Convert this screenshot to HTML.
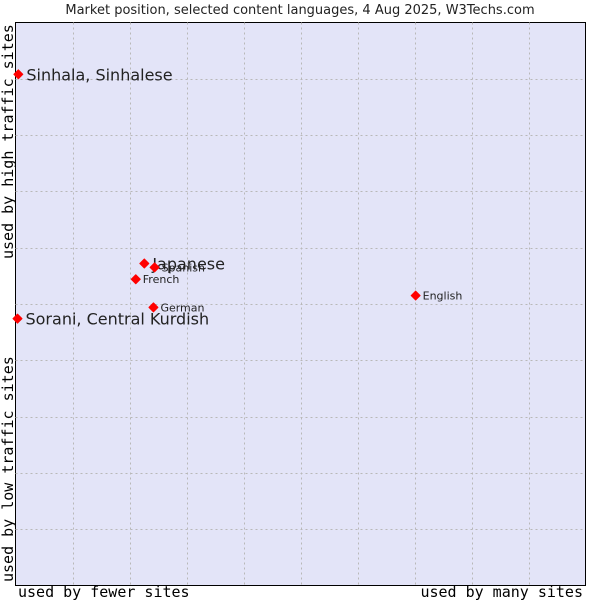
<!DOCTYPE html>
<html><head><meta charset="utf-8"><style>
body{margin:0;background:#fff;width:600px;height:600px;overflow:hidden}
svg text{font-family:"DejaVu Sans","Liberation Sans",sans-serif}
</style></head><body>
<svg id="c" width="600" height="600" xmlns="http://www.w3.org/2000/svg">
<text x="300" y="14" text-anchor="middle" font-size="13" fill="#222">Market position, selected content languages, 4 Aug 2025, W3Techs.com</text>
<rect x="15.5" y="22.5" width="570" height="563" fill="#e3e4f8" stroke="#000"/>
<g id="grid"></g>
<g id="pts"></g>
<text x="18" y="597" font-size="15" fill="#000" style="font-family:'DejaVu Sans Mono',monospace">used by fewer sites</text>
<text x="583" y="597" text-anchor="end" font-size="15" style="font-family:'DejaVu Sans Mono',monospace">used by many sites</text>
<text transform="translate(13,582) rotate(-90)" font-size="15" style="font-family:'DejaVu Sans Mono',monospace">used by low traffic sites</text>
<text transform="translate(13,259) rotate(-90)" font-size="15" style="font-family:'DejaVu Sans Mono',monospace">used by high traffic sites</text>
</svg>
<script>
const names=["Sinhala, Sinhalese","Sorani, Central Kurdish","Japanese","Spanish","French","German","English"];
const xs=[0.5,0.35,22.6,24.4,21.1,24.2,70.2];
const ys=[90.8,47.4,57.2,56.5,54.4,49.4,51.5];
const big=[true,true,true,false,false,false,false];
const L=15.5,R=585.5,T=22.5,B=585.5;
const sx=v=>L+(R-L)*v/100, sy=v=>B-(B-T)*v/100;
const NS="http://www.w3.org/2000/svg";
const g=document.getElementById('grid'), p=document.getElementById('pts');
for(let i=1;i<10;i++){
 const v=document.createElementNS(NS,'line');
 
 
 v.setAttribute('x1',Math.round(sx(i*10))+0.5);v.setAttribute('x2',Math.round(sx(i*10))+0.5);v.setAttribute('y1',T);v.setAttribute('y2',B);
 v.setAttribute('stroke','#b8b8b8');v.setAttribute('stroke-dasharray','2,3');g.appendChild(v);
 const h=document.createElementNS(NS,'line');
 
 
 h.setAttribute('y1',Math.round(sy(i*10))+0.5);h.setAttribute('y2',Math.round(sy(i*10))+0.5);h.setAttribute('x1',L);h.setAttribute('x2',R);
 h.setAttribute('stroke','#b8b8b8');h.setAttribute('stroke-dasharray','2,3');g.appendChild(h);
}
names.forEach((n,i)=>{
 const x=sx(xs[i]),y=sy(ys[i]);
 const d=document.createElementNS(NS,'path');
 
 
 d.setAttribute('d',`M${x-4.5},${y} L${x},${y-4.5} L${x+4.5},${y} L${x},${y+4.5}Z`);
 d.setAttribute('fill','#f00');d.setAttribute('stroke','#f00');d.setAttribute('stroke-linejoin','round');p.appendChild(d);
 const t=document.createElementNS(NS,'text');
 
 
 t.setAttribute('x',x+(big[i]?8:7));t.setAttribute('y',y+(big[i]?6:4));
 t.setAttribute('font-size',big[i]?16:11);t.setAttribute('fill','#222');t.textContent=n;p.appendChild(t);
});
</script>
</body></html>
